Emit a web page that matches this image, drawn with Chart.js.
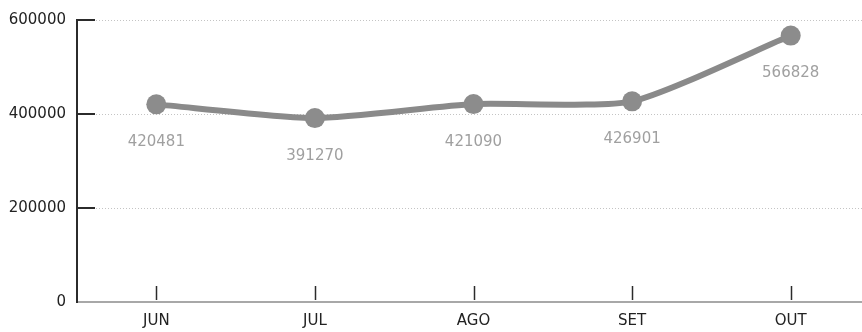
<!DOCTYPE html>
<html>
<head>
<meta charset="utf-8">
<script src="https://cdn.jsdelivr.net/npm/chart.js@4.4.0/dist/chart.umd.min.js"></script>
<style>
  html, body { margin: 0; padding: 0; background: #fff; overflow: hidden; }
</style>
</head>
<body>
<canvas id="monthlyChart" width="880" height="332"></canvas>
<script>
const months = ['JUN', 'JUL', 'AGO', 'SET', 'OUT'];
const totals = [420481, 391270, 421090, 426901, 566828];
const yTickValues = [0, 200000, 400000, 600000];

const FONT = 'DejaVu Sans, sans-serif';

// tick marks drawn inside the plot + value labels under each point
const axisMarks = {
    id: 'axisMarks',
    afterDatasetsDraw(chart) {
        const ctx = chart.ctx;
        const area = chart.chartArea;
        const x = chart.scales.x;
        const y = chart.scales.y;

        ctx.save();
        ctx.strokeStyle = '#2b2b2b';
        ctx.lineWidth = 2;
        y.ticks.forEach((t, i) => {
            if (t.value === 0) return;
            const py = Math.round(y.getPixelForTick(i));
            ctx.beginPath();
            ctx.moveTo(area.left, py);
            ctx.lineTo(area.left + 18, py);
            ctx.stroke();
        });

        ctx.lineWidth = 1.5;
        x.ticks.forEach((t, i) => {
            const px = Math.round(x.getPixelForTick(i)) + 0.5;
            ctx.beginPath();
            ctx.moveTo(px, area.bottom - 16);
            ctx.lineTo(px, area.bottom - 2);
            ctx.stroke();
        });

        const meta = chart.getDatasetMeta(0);
        ctx.fillStyle = '#a0a0a0';
        ctx.font = '15px ' + FONT;
        ctx.textAlign = 'center';
        ctx.textBaseline = 'middle';
        meta.data.forEach((pt, i) => {
            ctx.fillText(String(totals[i]), pt.x, pt.y + 38);
        });
        ctx.restore();
    }
};

const ctx = document.getElementById('monthlyChart').getContext('2d');
window.monthlyChart = new Chart(ctx, {
    type: 'line',
    data: {
        labels: months,
        datasets: [{
            data: totals,
            borderColor: '#8a8a8a',
            backgroundColor: '#8a8a8a',
            borderWidth: 6,
            tension: 0.2,
            pointRadius: 10,
            pointBackgroundColor: '#8c8c8c',
            pointBorderColor: '#8c8c8c',
            pointBorderWidth: 0,
            fill: false
        }]
    },
    options: {
        responsive: false,
        animation: false,
        layout: { padding: { top: 20, left: 0, right: 0, bottom: 0 } },
        plugins: {
            legend: { display: false },
            tooltip: { enabled: false }
        },
        scales: {
            x: {
                offset: true,
                grid: { display: false, drawTicks: false },
                border: { display: true, color: '#a8a8a8', width: 2 },
                ticks: {
                    color: '#222',
                    padding: 10,
                    font: { family: FONT, size: 15 }
                },
                afterFit: s => { s.height = 30; }
            },
            y: {
                min: 0,
                max: 600000,
                afterBuildTicks: s => { s.ticks = yTickValues.map(v => ({ value: v })); },
                grid: { color: '#c4c4c4', lineWidth: 1, drawTicks: false },
                border: { display: true, color: '#2b2b2b', width: 2, dash: [1, 2] },
                ticks: {
                    color: '#222',
                    padding: 11,
                    font: { family: FONT, size: 15 },
                    callback: v => String(v)
                },
                afterFit: s => { s.width = 77; }
            }
        }
    },
    plugins: [axisMarks]
});
</script>
</body>
</html>
